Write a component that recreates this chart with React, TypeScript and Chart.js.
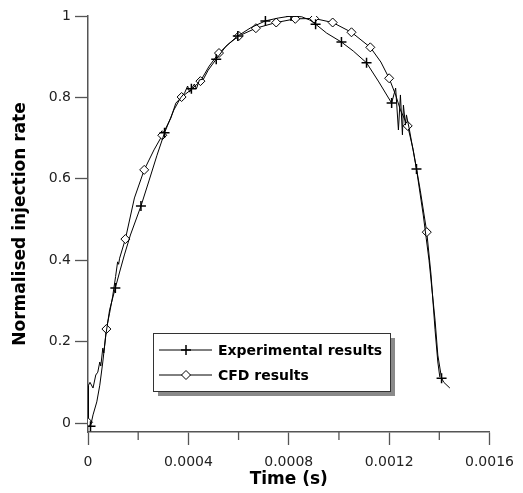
import React, { useEffect, useRef } from "react";
import { Chart, registerables } from "chart.js";

Chart.register(...registerables);

// Experimental results (time s, normalised rate); markers at listed indices
const expTime = [
  0.00001, 0.00002, 0.000035, 0.000047, 0.000059, 0.000071, 0.000086, 0.000109, 0.000126, 0.000145,
  0.000169, 0.000211, 0.000244, 0.000275, 0.000305, 0.000342, 0.000369, 0.000385, 0.000397, 0.000405,
  0.000412, 0.000424, 0.000432, 0.000444, 0.00046, 0.000479, 0.000511, 0.00055, 0.000597, 0.000648,
  0.000707, 0.000758, 0.000809, 0.000852, 0.000884, 0.000907, 0.000951, 0.00101, 0.001057, 0.00111,
  0.001159, 0.00121, 0.001226, 0.001237, 0.001245, 0.001253, 0.001257, 0.001265, 0.001269, 0.001281,
  0.001309, 0.001336, 0.001359, 0.001383, 0.001394, 0.001409, 0.001418, 0.001442,
];
const expRate = [
  -0.008, 0.02, 0.052, 0.093, 0.15, 0.216, 0.278, 0.332, 0.371, 0.413,
  0.462, 0.533, 0.597, 0.658, 0.713, 0.769, 0.799, 0.811, 0.828, 0.813,
  0.821, 0.833, 0.821, 0.843, 0.845, 0.867, 0.894, 0.926, 0.951, 0.971,
  0.988, 0.995, 1.0, 0.998, 0.99, 0.98, 0.958, 0.936, 0.914, 0.885,
  0.838, 0.786, 0.823, 0.72, 0.806, 0.708, 0.781, 0.732, 0.757, 0.72,
  0.624, 0.511, 0.4, 0.253, 0.167, 0.11, 0.1, 0.086,
];
const expMarkers = [0, 7, 11, 14, 20, 26, 28, 30, 32, 35, 37, 39, 41, 50, 55];

// CFD results
const cfdTime = [
  0, 0.000002, 0.000008, 0.00002, 0.000031, 0.000039, 0.000047, 0.000051, 0.000059, 0.000063,
  0.0000733, 0.000086, 0.000098, 0.00011, 0.000118, 0.000122, 0.000126, 0.000149, 0.000185, 0.000224,
  0.000263, 0.000296, 0.00033, 0.00035, 0.000373, 0.000409, 0.000448, 0.000483, 0.000522, 0.000562,
  0.000601, 0.000669, 0.00075, 0.000826, 0.000901, 0.000975, 0.00105, 0.001125, 0.001167, 0.0012,
  0.001226, 0.001245, 0.001274, 0.001296, 0.001324, 0.00135, 0.001367, 0.001383, 0.001394, 0.001402,
];
const cfdRate = [
  0.002, 0.093, 0.1, 0.086, 0.118, 0.125, 0.15, 0.14, 0.184, 0.172,
  0.231, 0.27, 0.31, 0.36, 0.396, 0.39, 0.405, 0.452, 0.553, 0.622,
  0.671, 0.707, 0.749, 0.786, 0.801, 0.818, 0.84, 0.877, 0.909, 0.932,
  0.951, 0.97, 0.984, 0.993, 0.994, 0.984, 0.96, 0.923, 0.887, 0.847,
  0.806, 0.769, 0.73, 0.671, 0.572, 0.469, 0.364, 0.229, 0.15, 0.113,
];
const cfdMarkers = [0, 10, 17, 19, 21, 24, 26, 28, 30, 31, 32, 33, 34, 35, 36, 37, 39, 42, 45];

const yTicks = [0, 0.2, 0.4, 0.6, 0.8, 1];
const yTickLabels = ["0", "0.2", "0.4", "0.6", "0.8", "1"];
const xMajor = [0, 0.0004, 0.0008, 0.0012, 0.0016];
const xMajorLabels = ["0", "0.0004", "0.0008", "0.0012", "0.0016"];

const seriesNames = ["Experimental results", "CFD results"];

const AXIS = "#555555";
const FONT = "'DejaVu Sans', sans-serif";

const minorTicksPlugin = {
  id: "minorTicks",
  afterDraw(chart: any) {
    const xs = chart.scales.x;
    const ctx = chart.ctx;
    ctx.save();
    ctx.strokeStyle = AXIS;
    ctx.lineWidth = 1.3;
    xs.ticks.forEach((t: any) => {
      const isMajor = xMajor.some((v) => Math.abs(v - t.value) < 1e-9);
      if (isMajor) return;
      const px = xs.getPixelForValue(t.value);
      ctx.beginPath();
      ctx.moveTo(px, xs.top);
      ctx.lineTo(px, xs.top + 8);
      ctx.stroke();
    });
    ctx.restore();
  },
};

const legendPlugin = {
  id: "boxLegend",
  afterDraw(chart: any) {
    const ctx = chart.ctx;
    const ca = chart.chartArea;
    const left = ca.left + 65;
    const top = ca.top + 317;
    const w = 237;
    const h = 58;
    ctx.save();
    ctx.fillStyle = "#8a8a8a";
    ctx.fillRect(left + 5, top + 5, w, h);
    ctx.fillStyle = "#ffffff";
    ctx.fillRect(left, top, w, h);
    ctx.strokeStyle = "#333333";
    ctx.lineWidth = 1;
    ctx.strokeRect(left + 0.5, top + 0.5, w, h);
    const rows = [top + 17, top + 42];
    chart.data.datasets.forEach((ds: any, i: number) => {
      const y = rows[i];
      ctx.strokeStyle = "#000";
      ctx.lineWidth = 1;
      ctx.beginPath();
      ctx.moveTo(left + 6, y);
      ctx.lineTo(left + 59, y);
      ctx.stroke();
      const mx = left + 33;
      if (i === 0) {
        ctx.lineWidth = 1.5;
        ctx.beginPath();
        ctx.moveTo(mx - 5, y);
        ctx.lineTo(mx + 5, y);
        ctx.moveTo(mx, y - 5);
        ctx.lineTo(mx, y + 5);
        ctx.stroke();
      } else {
        ctx.fillStyle = "#fff";
        ctx.lineWidth = 1;
        ctx.beginPath();
        ctx.moveTo(mx, y - 4.5);
        ctx.lineTo(mx + 4.5, y);
        ctx.lineTo(mx, y + 4.5);
        ctx.lineTo(mx - 4.5, y);
        ctx.closePath();
        ctx.fill();
        ctx.stroke();
      }
      ctx.fillStyle = "#000";
      ctx.font = `bold 14px ${FONT}`;
      ctx.textBaseline = "middle";
      ctx.textAlign = "left";
      ctx.fillText(ds.label, left + 65, y + 1);
    });
    ctx.restore();
  },
};

export default function App() {
  const ref = useRef<HTMLCanvasElement>(null);
  useEffect(() => {
    if (!ref.current) return;
    const chart = new Chart(ref.current, {
      type: "line",
      data: {
        datasets: [
          {
            label: seriesNames[0],
            data: expTime.map((t, i) => ({ x: t, y: expRate[i] })),
            borderColor: "#000",
            borderWidth: 1,
            backgroundColor: "#000",
            pointStyle: "cross",
            pointRadius: (c: any) => (expMarkers.includes(c.dataIndex) ? 5 : 0),
            pointBorderWidth: 1.5,
            pointBorderColor: "#000",
            tension: 0,
          },
          {
            label: seriesNames[1],
            data: cfdTime.map((t, i) => ({ x: t, y: cfdRate[i] })),
            borderColor: "#000",
            borderWidth: 1,
            backgroundColor: "#fff",
            pointStyle: "rectRot",
            pointRadius: (c: any) => (cfdMarkers.includes(c.dataIndex) ? 4.5 : 0),
            pointBorderWidth: 1,
            pointBorderColor: "#000",
            pointBackgroundColor: "#fff",
            tension: 0,
          },
        ],
      },
      options: {
        animation: false,
        responsive: false,
        devicePixelRatio: 1,
        events: [],
        layout: { padding: { left: 0, right: 28, top: 16, bottom: 0 } },
        plugins: { legend: { display: false }, tooltip: { enabled: false } },
        scales: {
          x: {
            type: "linear",
            min: 0,
            max: 0.0016,
            afterFit: (s: any) => {
              s.height = 61;
            },
            afterBuildTicks: (s: any) => {
              const arr = [];
              for (let i = 0; i <= 8; i++) arr.push({ value: i * 0.0002 });
              s.ticks = arr;
            },
            ticks: {
              autoSkip: false,
              maxRotation: 0,
              padding: 9,
              color: "#222",
              font: { family: FONT, size: 14 },
              callback: (v: any) => {
                const k = xMajor.findIndex((m) => Math.abs(m - v) < 1e-9);
                return k >= 0 ? xMajorLabels[k] : "";
              },
            },
            grid: {
              drawOnChartArea: false,
              tickLength: 13,
              tickWidth: 1.3,
              tickColor: (c: any) =>
                xMajor.some((m) => Math.abs(m - c.tick?.value) < 1e-9) ? AXIS : "rgba(0,0,0,0)",
            },
            border: { color: AXIS, width: 1.5 },
            title: {
              display: true,
              text: "Time (s)",
              color: "#000",
              font: { family: FONT, size: 17, weight: "bold" },
              padding: { top: 0, bottom: 3 },
            },
          },
          y: {
            type: "linear",
            min: -0.022,
            max: 1,
            afterFit: (s: any) => {
              s.width = 88;
            },
            afterBuildTicks: (s: any) => {
              s.ticks = yTicks.map((v) => ({ value: v }));
            },
            ticks: {
              padding: 4,
              color: "#222",
              font: { family: FONT, size: 14 },
              callback: (v: any) => {
                const k = yTicks.findIndex((m) => Math.abs(m - v) < 1e-9);
                return k >= 0 ? yTickLabels[k] : "";
              },
            },
            grid: {
              drawOnChartArea: false,
              tickLength: 13,
              tickWidth: 1.3,
              tickColor: AXIS,
            },
            border: { color: AXIS, width: 1.5 },
            title: {
              display: true,
              text: "Normalised injection rate",
              color: "#000",
              font: { family: FONT, size: 17, weight: "bold" },
              padding: { top: 10, bottom: 0 },
            },
          },
        },
      },
      plugins: [minorTicksPlugin, legendPlugin],
    } as any);
    return () => chart.destroy();
  }, []);
  return (
    <div style={{ position: "absolute", left: 0, top: 0, width: 523, height: 493, background: "#fff" }}>
      <canvas ref={ref} width={523} height={493} style={{ display: "block" }} />
    </div>
  );
}
